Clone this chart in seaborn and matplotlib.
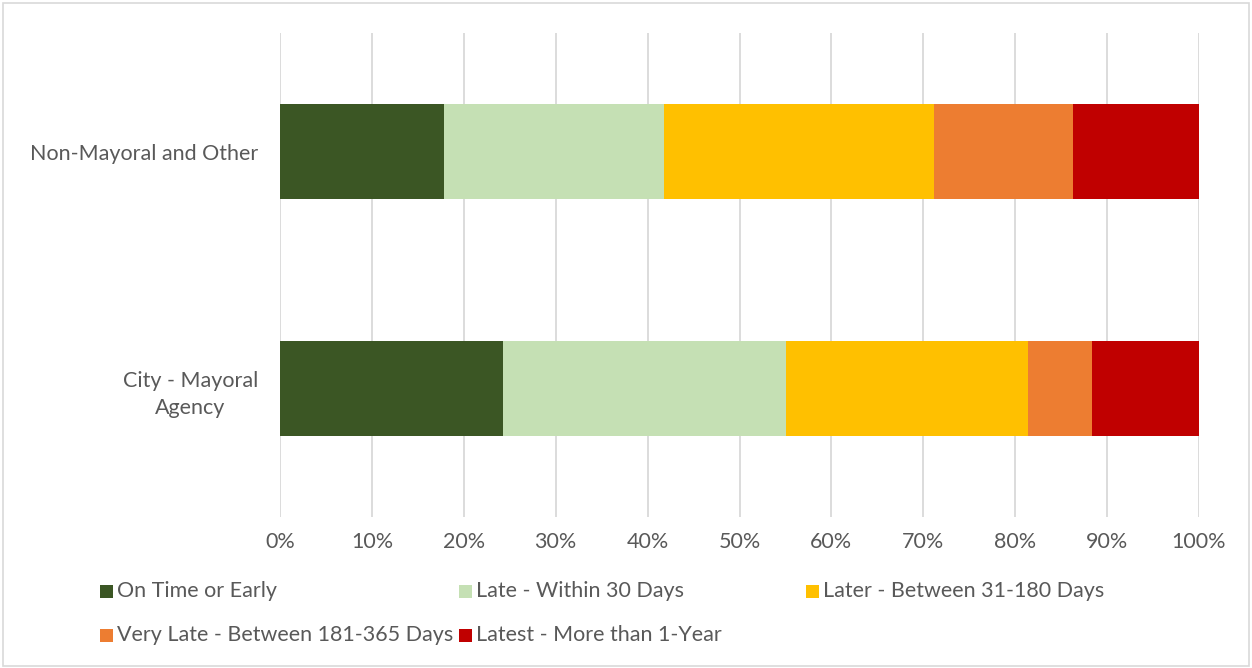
import matplotlib
matplotlib.use("Agg")
import matplotlib.pyplot as plt
from matplotlib.patches import Rectangle
import seaborn as sns
import numpy as np

categories = ["Non-Mayoral and Other", "City - Mayoral\nAgency"]
series_names = ["On Time or Early", "Late - Within 30 Days", "Later - Between 31-180 Days",
                "Very Late - Between 181-365 Days", "Latest - More than 1-Year"]
on_time = [17.8, 24.3]
late_30 = [24.0, 30.8]
later_180 = [29.4, 26.3]
very_late = [15.1, 7.0]
latest = [13.7, 11.6]
x_ticks = [0, 10, 20, 30, 40, 50, 60, 70, 80, 90, 100]
x_tick_labels = [f"{t}%" for t in x_ticks]

colors = ["#3B5624", "#C5E0B4", "#FFC000", "#ED7D31", "#C00000"]

sns.set_theme(style="white")
plt.rcParams["font.family"] = ["Lato", "DejaVu Sans"]

FS = 15.5

fig = plt.figure(figsize=(12.52, 6.68), dpi=100)
ax = fig.add_axes([280 / 1252, 1 - 517 / 668, (1199 - 280) / 1252, (517 - 33) / 668])

series = [on_time, late_30, later_180, very_late, latest]
cum = np.cumsum(np.array(series), axis=0)
for i in range(len(series) - 1, -1, -1):
    sns.barplot(x=cum[i], y=categories, color=colors[i], orient="h", width=0.4,
                saturation=1, linewidth=0, ax=ax, zorder=3)

ax.set_xlim(0, 100)
ax.set_ylim(1.54, -0.5)
ax.set_xticks(x_ticks)
ax.set_xticklabels(x_tick_labels)
ax.set_xlabel("")
ax.set_ylabel("")
for s in ax.spines.values():
    s.set_visible(False)
ax.grid(axis="x", color="#D9D9D9", linewidth=1.3, zorder=0)
ax.grid(axis="y", visible=False)
ax.set_axisbelow(True)
ax.tick_params(axis="both", length=0, labelsize=FS, colors="#595959")
ax.tick_params(axis="x", pad=11)
ax.tick_params(axis="y", pad=16)
for lab in ax.get_yticklabels():
    lab.set_multialignment("center")
    lab.set_linespacing(1.45)

# Legend (manual layout like Excel)
leg_pos = [(100, 591), (459, 591), (806, 591), (100, 635), (459, 635)]
for (px, py), name, c in zip(leg_pos, series_names, colors):
    fig.add_artist(Rectangle((px / 1252, 1 - (py + 7) / 668), 13 / 1252, 13 / 668,
                             transform=fig.transFigure, facecolor=c, edgecolor="none"))
    fig.text((px + 17) / 1252, 1 - py / 668, name, fontsize=FS, color="#595959",
             ha="left", va="center")

# chart border
fig.add_artist(Rectangle((3 / 1252, 2 / 668), 1246 / 1252, 663 / 668, transform=fig.transFigure,
                         facecolor="none", edgecolor="#D9D9D9", linewidth=1.2))

fig.savefig("out.png", dpi=100)
